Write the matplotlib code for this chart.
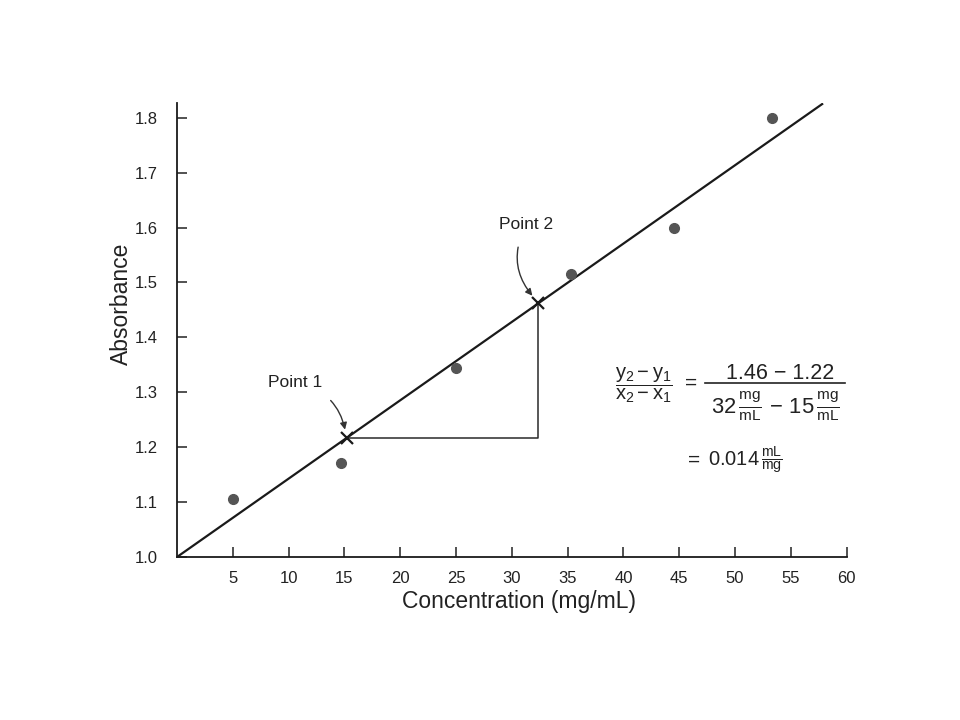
import matplotlib
matplotlib.use('Agg')
import matplotlib.pyplot as plt
import numpy as np

plt.rcParams['font.family'] = ['Liberation Sans', 'DejaVu Sans']
plt.rcParams['mathtext.fontset'] = 'custom'
plt.rcParams['mathtext.rm'] = 'Liberation Sans'
plt.rcParams['mathtext.it'] = 'Liberation Sans'
plt.rcParams['mathtext.bf'] = 'Liberation Sans:bold'

# measured samples
conc = [5.0, 14.7, 25.0, 35.3, 44.5, 53.3]
absorb = [1.105, 1.171, 1.344, 1.515, 1.599, 1.80]

# best fit line end points
fit_x = [0.0, 57.8]
fit_y = [1.0, 1.825]

# the two points picked on the line
p1 = (15.2, 1.217)
p2 = (32.3, 1.462)

xticks = [5, 10, 15, 20, 25, 30, 35, 40, 45, 50, 55, 60]
yticks = [1.0, 1.1, 1.2, 1.3, 1.4, 1.5, 1.6, 1.7, 1.8]

ink = '#222222'

fig = plt.figure(figsize=(9.6, 7.2), dpi=100)
ax = fig.add_axes([0.1844, 0.2264, 0.6976, 0.6306])

ax.plot(fit_x, fit_y, color='#1a1a1a', lw=1.6)
ax.plot(conc, absorb, 'o', color='#555555', ms=7)
ax.plot([p1[0], p2[0], p2[0]], [p1[1], p1[1], p2[1]], color='#2a2a2a', lw=1.1)
ax.plot([p1[0], p2[0]], [p1[1], p2[1]], 'x', color='#1a1a1a', ms=9, mew=1.6)

ax.annotate('Point 1', xy=(p1[0] - 0.1, p1[1] + 0.01), xytext=(10.6, 1.317),
            fontsize=12.5, ha='center', va='center', color=ink,
            arrowprops=dict(arrowstyle='-|>', color='#333333', lw=1.0,
                            connectionstyle='arc3,rad=-0.35',
                            shrinkA=8, shrinkB=2, mutation_scale=10))
ax.annotate('Point 2', xy=(p2[0] - 0.3, p2[1] + 0.01), xytext=(31.3, 1.605),
            fontsize=12.5, ha='center', va='center', color=ink,
            arrowprops=dict(arrowstyle='-|>', color='#333333', lw=1.0,
                            connectionstyle='arc3,rad=0.35',
                            shrinkA=9, shrinkB=2, mutation_scale=10))

# slope calculation
ax.text(39.2, 1.313, r'$\dfrac{\mathrm{y_2-y_1}}{\mathrm{x_2-x_1}}$',
        fontsize=14.5, ha='left', va='center', color=ink)
ax.text(46.05, 1.317, '=', fontsize=15, ha='center', va='center', color=ink)
ax.text(54.0, 1.335, '1.46 \u2212 1.22', fontsize=15.5, ha='center', va='center', color=ink)
ax.plot([0.788, 0.997], [0.383, 0.383], color=ink, lw=1.2,
        transform=ax.transAxes, clip_on=False)
ax.text(53.6, 1.274, r'$32\,\frac{\mathrm{mg}}{\mathrm{mL}}\,-\,15\,\frac{\mathrm{mg}}{\mathrm{mL}}$',
        fontsize=15.8, ha='center', va='center', color=ink)
ax.text(46.3, 1.177, '=', fontsize=15, ha='center', va='center', color=ink)
ax.text(47.6, 1.177, r'$0.014\,\frac{\mathrm{mL}}{\mathrm{mg}}$',
        fontsize=14.5, ha='left', va='center', color=ink)

ax.set_xlim(0, 60)
ax.set_ylim(1.0, 1.827)
ax.set_xticks(xticks)
ax.set_yticks(yticks)
ax.set_yticklabels(['%.1f' % v for v in yticks])
ax.tick_params(direction='in', length=7, width=1.1, labelsize=12, colors=ink)
ax.tick_params(axis='y', pad=14)
ax.tick_params(axis='x', pad=10)

for side in ['top', 'right']:
    ax.spines[side].set_visible(False)
for side in ['left', 'bottom']:
    ax.spines[side].set_linewidth(1.3)
    ax.spines[side].set_color('#1a1a1a')

ax.set_xlabel('Concentration (mg/mL)', fontsize=16.5, color=ink, labelpad=3)
ax.xaxis.label.set_x(0.51)
ax.set_ylabel('Absorbance', fontsize=16.5, color=ink)
ax.yaxis.set_label_coords(-0.066, 0.557)

fig.savefig('out.png', dpi=100)
